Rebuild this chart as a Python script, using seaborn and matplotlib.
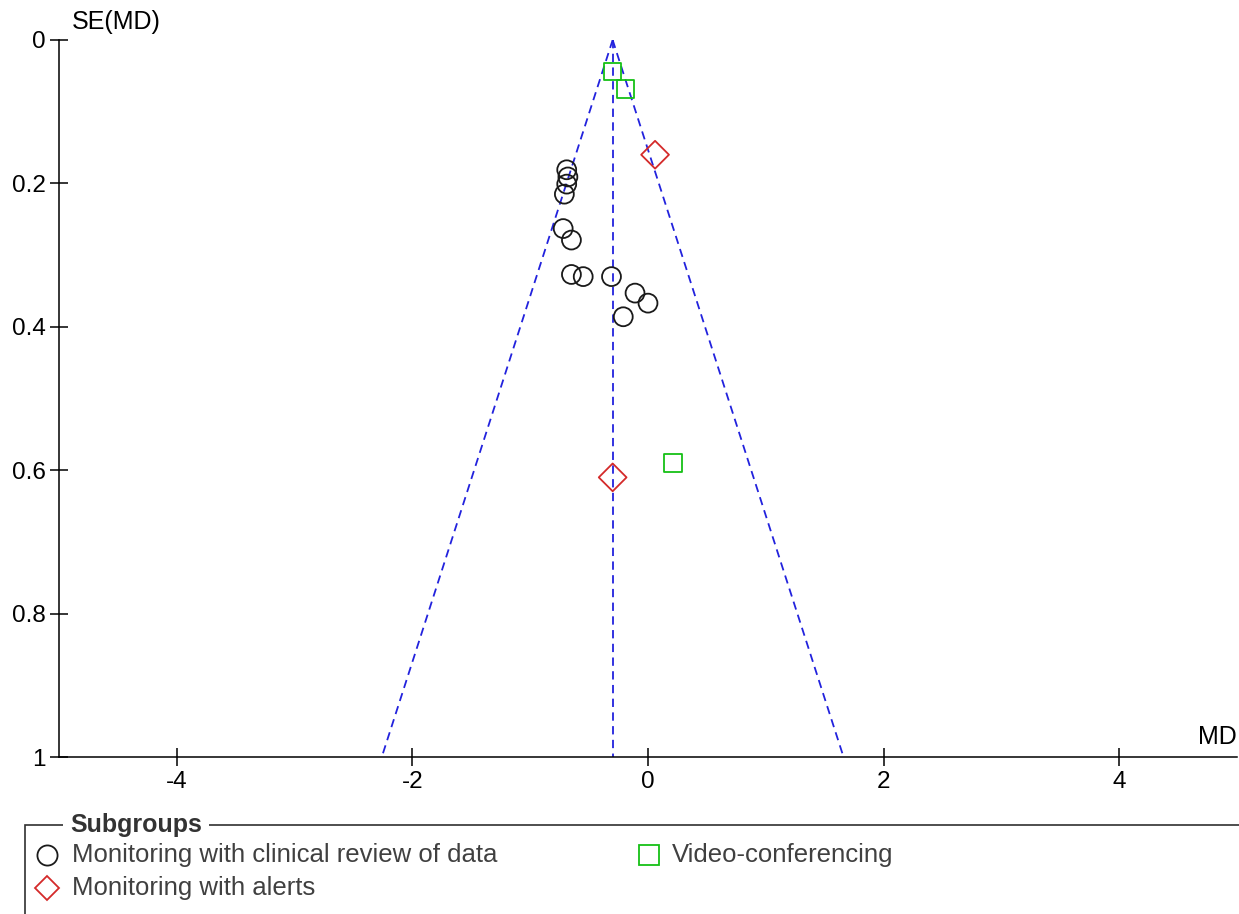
import matplotlib
matplotlib.use("Agg")
import matplotlib.pyplot as plt
from matplotlib.lines import Line2D
from matplotlib.patches import Rectangle
import numpy as np
import pandas as pd
import seaborn as sns

# Study-level mean differences and standard errors, by subgroup
clinical_md = [-0.69, -0.68, -0.69, -0.71, -0.72, -0.65, -0.65, -0.55, -0.31, -0.11, 0.00, -0.21]
clinical_se = [0.181, 0.191, 0.201, 0.215, 0.263, 0.279, 0.327, 0.330, 0.330, 0.353, 0.367, 0.386]
alerts_md = [0.06, -0.30]
alerts_se = [0.160, 0.610]
video_md = [-0.30, -0.19, 0.21]
video_se = [0.044, 0.068, 0.590]

pooled_md = -0.30
z_crit = 1.96

x_ticks = [-4, -2, 0, 2, 4]
x_tick_labels = ["-4", "-2", "0", "2", "4"]
y_ticks = [0, 0.2, 0.4, 0.6, 0.8, 1]
y_tick_labels = ["0", "0.2", "0.4", "0.6", "0.8", "1"]

group_names = ["Monitoring with clinical review of data", "Monitoring with alerts", "Video-conferencing"]

sns.set_style("ticks")
plt.rcParams["font.family"] = ["Liberation Sans", "DejaVu Sans"]

W, H = 1239, 914
fig = plt.figure(figsize=(W / 100, H / 100), dpi=100)
ax = fig.add_axes([59 / W, 1 - 757 / H, 1178 / W, 717 / H])

blue = "#2222dd"
red = "#d42a2a"
green = "#16c016"
black = "#1a1a1a"

# Funnel: pooled estimate with 95% pseudo-confidence limits
se_span = np.array([0.0, 1.0])
funnel = pd.DataFrame({
    "se": np.concatenate([se_span, se_span, se_span]),
    "md": np.concatenate([pooled_md - z_crit * se_span,
                          pooled_md + z_crit * se_span,
                          np.full(2, pooled_md)]),
    "part": ["lo"] * 2 + ["hi"] * 2 + ["mid"] * 2,
})
for part in ["lo", "hi", "mid"]:
    sub = funnel[funnel["part"] == part]
    sns.lineplot(data=sub, x="md", y="se", ax=ax, color=blue, lw=1.3,
                 sort=False, estimator=None)
for line in ax.lines:
    line.set_dashes((4.6, 3.0))

# Study points
df_clin = pd.DataFrame({"md": clinical_md, "se": clinical_se})
df_alert = pd.DataFrame({"md": alerts_md, "se": alerts_se})
df_video = pd.DataFrame({"md": video_md, "se": video_se})

sns.scatterplot(data=df_clin, x="md", y="se", ax=ax, marker="o", s=185,
                color=black, facecolor="none", edgecolor=black, linewidth=1.3, zorder=5)
sns.scatterplot(data=df_alert, x="md", y="se", ax=ax, marker="D", s=200,
                color=red, facecolor="none", edgecolor=red, linewidth=1.3, zorder=5)
sns.scatterplot(data=df_video, x="md", y="se", ax=ax, marker="s", s=160,
                color=green, facecolor="none", edgecolor=green, linewidth=1.3, zorder=5)

ax.set_xlim(-5, 5)
ax.set_ylim(1, 0)
ax.set_xticks(x_ticks)
ax.set_xticklabels(x_tick_labels)
ax.set_yticks(y_ticks)
ax.set_yticklabels(y_tick_labels)
ax.set_xlabel("")
ax.set_ylabel("")
ax.tick_params(axis="both", direction="inout", length=13.5, width=1.1, color="black",
               labelsize=17.5, labelcolor="black", pad=3)
for side in ["top", "right"]:
    ax.spines[side].set_visible(False)
for side in ["left", "bottom"]:
    ax.spines[side].set_color("black")
    ax.spines[side].set_linewidth(1.1)
ax.grid(False)

fig.text(72 / W, 1 - 22 / H, "SE(MD)", ha="left", va="center", fontsize=18, color="black")
fig.text(1237 / W, 1 - 737 / H, "MD", ha="right", va="center", fontsize=18, color="black")

# Subgroup key
box = Rectangle((25 / W, -0.02), 1.05, 0.02 + (1 - 825 / H), transform=fig.transFigure,
                fill=False, edgecolor="#303030", linewidth=1.2)
fig.add_artist(box)
fig.text(70 / W, 1 - 825 / H, "Subgroups", ha="left", va="center", fontsize=18,
         fontweight="bold", color="#333333",
         bbox=dict(facecolor="white", edgecolor="none", pad=5))

key_items = [
    (47, 855, "o", black, 14.5, group_names[0], 72),
    (47, 888, "D", red, 12.5, group_names[1], 72),
    (649, 855, "s", green, 14, group_names[2], 672),
]
for mx, my, mk, col, ms, label, tx in key_items:
    fig.add_artist(Line2D([mx / W], [1 - my / H], transform=fig.transFigure, marker=mk,
                          markersize=ms, markerfacecolor="none",
                          markeredgecolor=col, markeredgewidth=1.3, linestyle="none"))
    fig.text(tx / W, 1 - my / H, label, ha="left", va="center", fontsize=18.5, color="#404040")

fig.savefig("out.png", dpi=100)
